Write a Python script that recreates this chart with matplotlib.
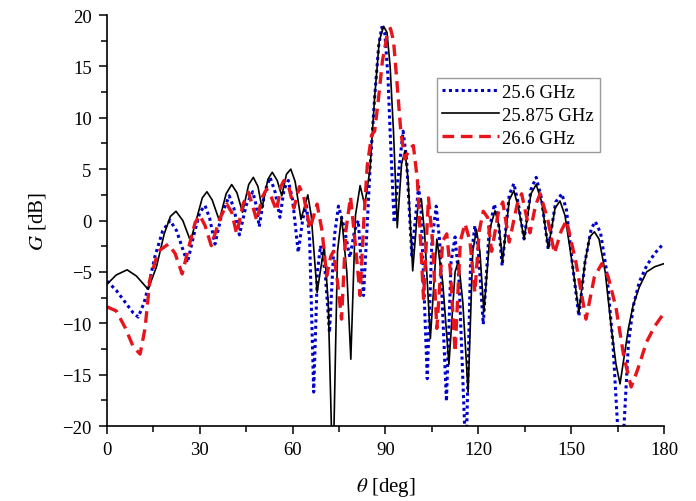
import matplotlib
matplotlib.use("Agg")
import matplotlib.pyplot as plt
from matplotlib.ticker import MultipleLocator

plt.rcParams['font.family'] = ['Liberation Serif', 'DejaVu Serif']
plt.rcParams['mathtext.fontset'] = 'stix'

# 25.875 GHz (black solid)
theta_b = [0, 3, 6.5, 9.5, 13.3, 16, 18.5, 20.5, 22.3, 24.5, 27, 29, 30.8, 32.3, 34, 36.3,
           38.5, 40.3, 42, 43.8, 45.8, 47.3, 48.8, 50.1, 52, 53.4, 55, 56.5, 58, 59.4, 60.8,
           62.7, 64.9, 66, 67.9, 70.2, 71.5, 72.6, 73.3, 74.5, 75.8, 77.5, 78.8, 80.3, 81.8,
           83.3, 85, 86.5, 88, 89.4, 90.5, 91.5, 92.6, 93.8, 95.2, 96.3, 97.3, 98.8, 100.5,
           101.6, 102.7, 104.5, 106.6, 108.5, 110.5, 112.5, 113.6, 115, 116.7, 118.2, 119.4,
           120.5, 121.8, 124, 125.4, 126.7, 127.8, 130, 131.5, 133, 134.8, 137, 138.7, 140.5,
           142.6, 144.8, 146.4, 148, 150.5, 152.5, 154.5, 156, 157.5, 159, 161, 163, 164.5,
           165.8, 167, 168.5, 170, 172, 174.4, 177, 180]
gain_b = [-6.2, -5.3, -4.8, -5.4, -6.7, -4.5, -1.3, 0.4, 0.9, 0.0, -2.0, 0.2, 2.2, 2.8, 2.0, 0.0,
          2.6, 3.5, 2.7, 0.8, 3.5, 4.2, 3.3, 1.2, 4.0, 4.7, 3.9, 2.4, 4.5, 5.0, 3.8,
          0.1, 2.5, 0.5, -7.0, -2.5, -8.0, -21, -21, -3.0, 0.4, -5.0, -13.5, 0.5, 3.4,
          1.5, 5.0, 12.0, 17.5, 18.9, 18.3, 15.0, 8.6, -0.7, 5.5, 6.8, 4.0, -4.9, 1.5,
          2.1, -1.5, -11.5, -1.8, -6.0, -14.0, -5.0, -3.9, -8.0, -16.7, -3.0, -0.9,
          -3.0, -8.9, -0.5, 0.95, -0.5, -4.0, 2.0, 2.9, 1.2, -1.8, 2.6, 3.5, 1.8,
          -2.7, 1.2, 1.9, 0.5, -4.5, -8.9, -4.0, -1.6, -1.1, -1.8, -5.0, -10.5, -14.0,
          -15.9, -13.5, -10.5, -8.3, -6.5, -5.0, -4.5, -4.2]

# 25.6 GHz (blue dotted)
theta_u = [0, 3, 6, 8.5, 10.1, 12, 13.3, 15.5, 18, 20.4, 22.5, 24.5, 26, 28, 30, 31.7, 33.2,
           34.9, 37, 39.5, 41, 42.8, 45, 47.1, 48.2, 49.2, 51, 52.7, 54.3, 55.9, 57.2, 58.6,
           60, 61.8, 63.3, 64.5, 65.5, 66.8, 68, 69, 70.5, 71.9, 73.5, 74.8, 76.5, 78.5, 80,
           81.2, 82.9, 84, 85, 86.5, 87.8, 88.8, 89.8, 90.8, 91.5, 92.8, 94, 95.7, 96.8, 98.5,
           100.7, 101.5, 103.5, 105, 106.4, 107.5, 109.7, 111.2, 112.5, 113.8, 115.7, 116.2,
           117.5, 118.9, 120, 121.6, 123.5, 125.2, 126.6, 127.7, 130, 131.5, 133, 134.8, 137,
           138.7, 140.3, 142.6, 145, 147, 148.5, 150.5, 152.5, 154.5, 156.5, 157.8, 159.5,
           161.5, 163.5, 165.2, 166.9, 168.5, 170.1, 172, 174.4, 177, 180]
gain_u = [-5.9, -6.8, -8.0, -9.0, -9.4, -8.0, -6.5, -3.5, -1.0, 0.0, -1.0, -2.8, -4.1, -1.5, 0.8, 1.45, 0.2,
          -2.3, 0.5, 2.4, 1.2, -1.4, 1.5, 2.8, 1.5, -0.6, 2.8, 4.2, 2.8, 0.3, 3.0, 3.9,
          2.0, -3.1, 0.2, 1.45, -2.0, -16.7, -5.0, -2.45, -5.0, -10.9, -1.5, 1.4, -0.5, -3.6, -1.0,
          0.0, -7.3, -1.0, 5.0, 12.0, 17.0, 18.8, 18.2, 14.0, 8.6, -0.2, 4.0, 8.7, 6.0, -3.4,
          3.3, 1.0, -15.4, -2.0, 1.4, -2.0, -17.6, -4.0, -1.6, -6.0, -21, -21,
          -4.0, -0.5, -3.0, -10.1, -1.0, 1.6, -0.5, -4.4, 2.5, 3.6, 1.5, -1.8, 3.0,
          4.2, 2.3, -2.8, 1.8, 2.6, 1.0, -4.5, -9.3, -4.0, -0.8, -0.1, -1.2,
          -5.0, -12.0, -21, -21, -12.0, -8.3, -6.0, -4.4, -3.2, -2.2]

# 26.6 GHz (red dashed)
theta_r = [0, 3, 6, 8.5, 10.7, 12.3, 13.9, 16.6, 19.8, 22, 24.3, 26.5, 28.5, 30, 31.7, 33.7,
           36.5, 38.7, 40.3, 41.9, 44, 45.7, 47, 48.4, 50.2, 51.6, 53.2, 54.8, 56.2, 57.2, 58.8,
           60.4, 62.2, 63.6, 65.6, 67.9, 69.5, 71, 72.3, 73.2, 74.5, 75.8, 77.2, 78.7, 80, 81.8,
           83, 84.1, 85.5, 86.5, 87.8, 89, 90.5, 91.6, 92.6, 93.7, 95, 96.3, 97.8, 99, 100.3,
           102.3, 103.9, 105.2, 106.6, 108.5, 109.8, 111, 112.5, 114.2, 115.7, 117.3, 118.9,
           120.3, 121.6, 123, 124.3, 126.5, 127.9, 130, 132.5, 134, 136.7, 138.5, 140, 142.5,
           144.6, 146.8, 148.5, 151.5, 154.8, 157.5, 159.9, 162, 164.5, 167, 169.4, 171.5,
           174.4, 177, 180]
gain_r = [-8.4, -8.8, -10.5, -12.3, -13.0, -10.5, -5.7, -3.0, -2.3, -3.2, -5.2, -2.5, -0.2, 0.5, -0.5, -2.45,
          0.2, 1.6, 0.8, -1.3, 1.6, 2.75, 1.5, 0.0, 2.3, 3.05, 2.2, 0.95, 3.3, 3.9, 3.2,
          1.2, 3.3, 2.3, -0.8, 1.6, -1.0, -5.4, -3.5, -3.0, -6.0, -9.6, -1.0, 2.3, -1.5, -7.3,
          0.0, 5.3, 8.3, 8.7, 12.0, 15.5, 18.0, 18.7, 17.5, 13.5, 8.5, 6.0, 7.0, 7.3, 4.0,
          -7.6, 2.2, -2.0, -10.5, -2.0, -1.3, -5.0, -12.8, -2.0, -0.3, -2.0, -7.0,
          -1.0, 0.9, 0.3, -3.0, 0.8, 1.8, -2.1, 1.5, 2.6, -1.2, 1.5, 2.6, 0.0,
          -3.2, -1.0, 0.0, -4.0, -9.6, -5.5, -4.2, -5.5, -8.5, -13.2, -16.2, -14.5,
          -11.8, -10.3, -9.0]

labels = ['25.6 GHz', '25.875 GHz', '26.6 GHz']
x_ticks = [0, 30, 60, 90, 120, 150, 180]
y_ticks = [-20, -15, -10, -5, 0, 5, 10, 15, 20]

fig = plt.figure(figsize=(6.96, 5.02), dpi=100)
ax = fig.add_axes([0.1537, 0.1494, 0.8003, 0.8187])

ax.plot(theta_u, gain_u, color='#0000cc', lw=2.2, linestyle=(0, (1.0, 1.1)),
        dash_capstyle='butt', label=labels[0])
ax.plot(theta_b, gain_b, color='black', lw=1.2, linestyle='-', label=labels[1])
ax.plot(theta_r, gain_r, color='#e8141c', lw=2.4, linestyle=(0, (3.5, 2.0)), label=labels[2])

ax.set_xlim(0, 180)
ax.set_ylim(-20, 20)
ax.set_xticks(x_ticks)
ax.set_yticks(y_ticks)
ax.xaxis.set_minor_locator(MultipleLocator(15))
ax.yaxis.set_minor_locator(MultipleLocator(2.5))
ax.tick_params(which='major', direction='out', length=6, width=1.1, labelsize=13.5, pad=5)
ax.tick_params(which='minor', direction='out', length=4, width=1.1)
for s in ['top', 'right']:
    ax.spines[s].set_visible(False)
for s in ['left', 'bottom']:
    ax.spines[s].set_linewidth(1.2)

ax.set_xlabel(r'$\theta$ [deg]', fontsize=15, labelpad=12)
ax.set_ylabel(r'$G$ [dB]', fontsize=15, labelpad=10)

leg = ax.legend(loc='upper left', bbox_to_anchor=(0.592, 0.846), borderaxespad=0,
                fontsize=13.5, frameon=True, fancybox=False, handlelength=3.0,
                handletextpad=0.2, labelspacing=0.3, borderpad=0.3)
leg.get_frame().set_edgecolor('#808080')
leg.get_frame().set_linewidth(1.0)

fig.savefig('out.png', dpi=100)
